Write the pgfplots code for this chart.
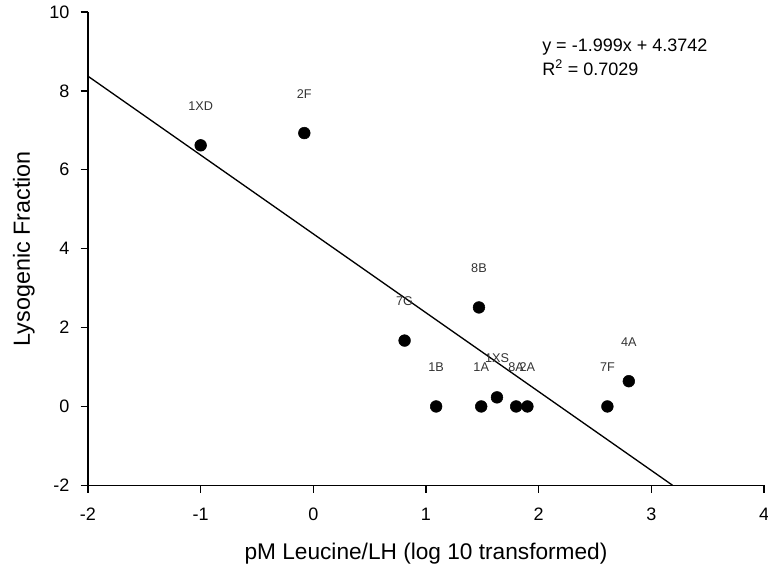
\documentclass[border=0pt]{standalone}
\usepackage{fontspec}
\setmainfont{Liberation Sans}
\usepackage{pgfplots}
\usepackage{pgfplotstable}
\pgfplotsset{compat=1.18}

% x, y of each strain; ly = height of its label
\pgfplotstableread{
x     y     ly    label
-1.00 6.62  7.62  1XD
-0.08 6.93  7.93  2F
0.81  1.67  2.67  7G
1.47  2.51  3.51  8B
1.09  0.00  1.00  1B
1.49  0.00  1.00  1A
1.63  0.23  1.23  1XS
1.80  0.00  1.00  8A
1.90  0.00  1.00  2A
2.61  0.00  1.00  7F
2.80  0.64  1.64  4A
}\pts

\begin{document}
\begin{tikzpicture}
\begin{axis}[
  scale only axis,
  width=507pt, height=355pt,
  xmin=-2, xmax=4, ymin=-2, ymax=10,
  axis x line*=bottom, axis y line*=left,
  axis line style={line width=1.1pt,-},
  xtick={-2,-1,...,4}, ytick={-2,0,...,10},
  tick align=outside, major tick length=5.5pt,
  tick style={line width=1pt, black},
  /pgf/number format/assume math mode=true,
  ticklabel style={font=\fontsize{13.5}{15}\selectfont},
  xticklabel style={yshift=-8pt},
  yticklabel style={xshift=-5pt},
  xlabel={pM Leucine/LH (log 10 transformed)},
  ylabel={Lysogenic Fraction},
  xlabel style={font=\fontsize{17}{19}\selectfont, at={(axis description cs:0.5,-0.1437)}, anchor=center},
  ylabel style={font=\fontsize{17.5}{19}\selectfont, at={(axis description cs:-0.095,0.5)}, anchor=center},
  clip=false,
]
\addplot[only marks, mark=*, mark size=4.4pt, black] table[x=x, y=y] {\pts};
\addplot[draw=none, nodes near coords, point meta=explicit symbolic,
  nodes near coords style={anchor=center, font=\fontsize{9.5}{10}\selectfont, text=black!80}]
  table[x=x, y=ly, meta=label] {\pts};
% linear fit y = -1.999x + 4.3742
\addplot[black, line width=1pt] coordinates {(-2,8.372) (3.189,-2)};
\node[anchor=west, font=\fontsize{13.5}{15}\selectfont] at (axis cs:1.99,9.11) {y = -1.999x + 4.3742};
\node[anchor=west, font=\fontsize{13.5}{15}\selectfont] at (axis cs:1.99,8.60) {R\textsuperscript{2} = 0.7029};
\coordinate (bl) at (rel axis cs:0,0);
\coordinate (tr) at (rel axis cs:1,1);
\end{axis}
\pgfresetboundingbox
\path (bl) ++(-66pt,-61.5pt) coordinate (a);
\path (tr) ++(3pt,9pt) coordinate (b);
\path (a) rectangle (b);
\end{tikzpicture}
\end{document}
